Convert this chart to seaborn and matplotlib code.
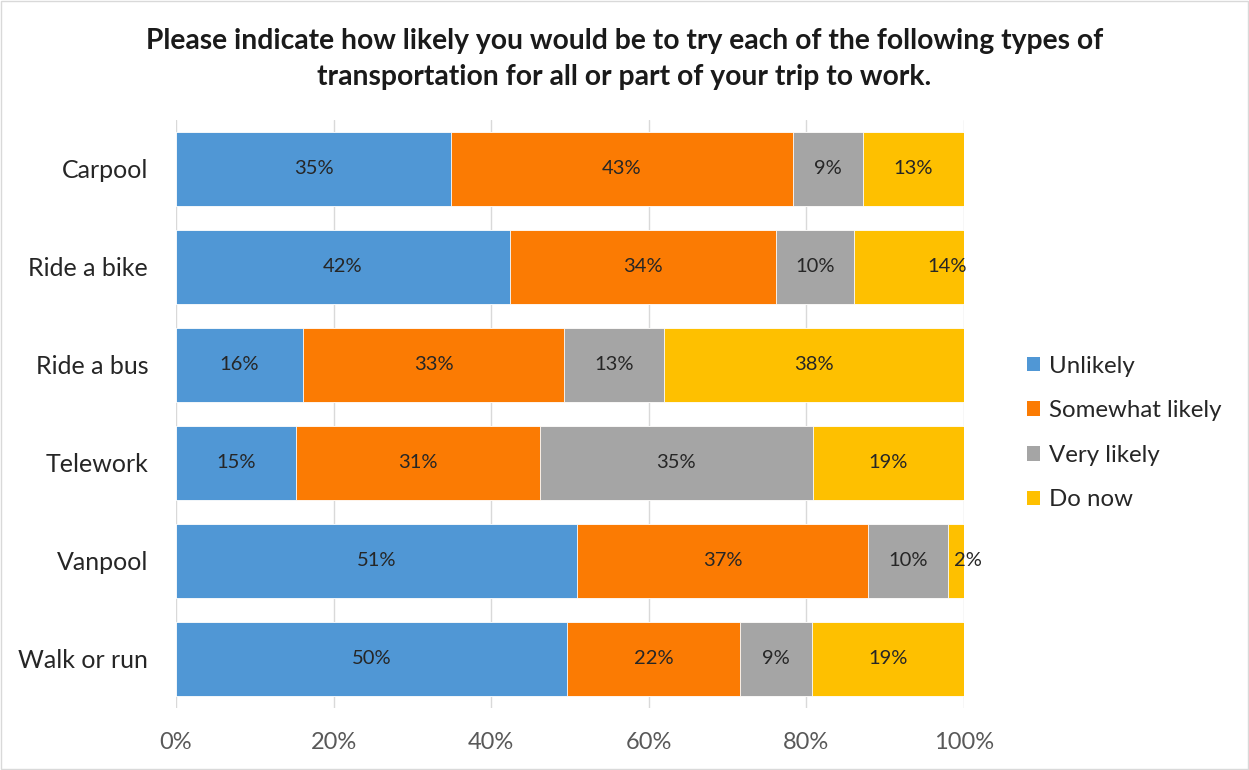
import numpy as np
import pandas as pd
import matplotlib
matplotlib.use("Agg")
import matplotlib.pyplot as plt
import seaborn as sns
from matplotlib.patches import Patch, Rectangle

categories = ["Carpool", "Ride a bike", "Ride a bus", "Telework", "Vanpool", "Walk or run"]
series = ["Unlikely", "Somewhat likely", "Very likely", "Do now"]
unlikely = [34.9, 42.4, 16.1, 15.2, 50.9, 49.6]
somewhat = [43.4, 33.8, 33.2, 31.0, 36.9, 22.0]
very = [8.9, 9.8, 12.6, 34.6, 10.2, 9.1]
do_now = [12.8, 14.0, 38.1, 19.2, 2.0, 19.3]
colors = ["#5097d5", "#fb7b03", "#a5a5a5", "#fec000"]
xticks = [0, 20, 40, 60, 80, 100]
title = ("Please indicate how likely you would be to try each of the following types of\n"
         "transportation for all or part of your trip to work.")

sns.set_style("white")
plt.rcParams["font.family"] = ["Lato", "DejaVu Sans"]

df = pd.DataFrame({"cat": categories, "Unlikely": unlikely, "Somewhat likely": somewhat,
                   "Very likely": very, "Do now": do_now})
cum = df[series].cumsum(axis=1)

fig = plt.figure(figsize=(12.49, 7.70), dpi=100)
ax = fig.add_axes([176 / 1249, 1 - 708 / 770, (964 - 176) / 1249, (708 - 120) / 770])

# stacked bars: draw cumulative totals from the back to the front
for s, c in reversed(list(zip(series, colors))):
    sns.barplot(x=cum[s], y=df["cat"], color=c, width=0.75, ax=ax,
                edgecolor="white", linewidth=0.6, orient="h", saturation=1)

# a couple of labels were moved by hand in the original chart
nudge = {("Ride a bike", "Do now"): 4.9, ("Vanpool", "Do now"): 1.5}

for i, row in df.iterrows():
    start = 0
    for s in series:
        v = row[s]
        x = start + v / 2 + nudge.get((row["cat"], s), 0)
        ax.text(x, i, f"{v:.0f}%", ha="center", va="center",
                fontsize=14.5, color="#262626")
        start += v

ax.set_xlim(0, 100)
ax.set_xticks(xticks)
ax.set_xticklabels([f"{t}%" for t in xticks], fontsize=17, color="#595959")
ax.tick_params(axis="x", length=0, pad=17)
ax.set_yticklabels(categories)
ax.tick_params(axis="y", length=0, pad=20, labelsize=18, labelcolor="#262626")
ax.set_xlabel("")
ax.set_ylabel("")
ax.xaxis.grid(True, color="#d9d9d9", linewidth=1)
ax.set_axisbelow(True)
for sp in ax.spines.values():
    sp.set_visible(False)

handles = [Patch(facecolor=c, edgecolor="none", label=s) for s, c in zip(series, colors)]
fig.legend(handles=handles, loc="center left", bbox_to_anchor=(1005 / 1249, 1 - 433 / 770),
           frameon=False, fontsize=17.3, handlelength=0.55, handleheight=0.55,
           handletextpad=0.4, labelspacing=0.98, labelcolor="#262626")

fig.text(0.5, 1 - 28 / 770, title, ha="center", va="top", fontsize=20.3,
         fontweight="bold", color="#1a1a1a", linespacing=1.47)

fig.patches.append(Rectangle((0.001, 0.001), 0.998, 0.998, transform=fig.transFigure,
                             fill=False, edgecolor="#d9d9d9", linewidth=1))

fig.savefig("out.png", dpi=100)
